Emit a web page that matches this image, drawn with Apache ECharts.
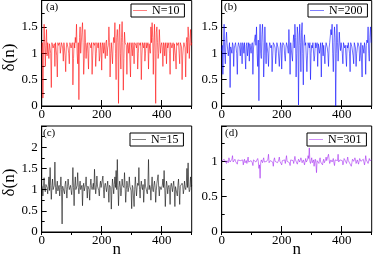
<!DOCTYPE html>
<html><head><meta charset="utf-8">
<script src="https://cdn.jsdelivr.net/npm/echarts@6/dist/echarts.min.js"></script>
<style>html,body{margin:0;padding:0;background:#fff}#c{width:373px;height:259px}</style>
</head><body><div id="c"></div>
<script>
const nIndex = [0,4,8,12,16,20,24,28,32,36,40,44,48,52,56,60,64,68,72,76,80,84,88,92,96,100,104,108,112,116,120,124,128,132,136,140,144,148,152,156,160,164,168,172,176,180,184,188,192,196,200,204,208,212,216,220,224,228,232,236,240,244,248,252,256,260,264,268,272,276,280,284,288,292,296,300,304,308,312,316,320,324,328,332,336,340,344,348,352,356,360,364,368,372,376,380,384,388,392,396,400,404,408,412,416,420,424,428,432,436,440,444,448,452,456,460,464,468,472,476,480,484,488,492,496,500];
const nMid = [2,6,10,14,18,22,26,30,34,38,42,46,50,54,58,62,66,70,74,78,82,86,90,94,98,102,106,110,114,118,122,126,130,134,138,142,146,150,154,158,162,166,170,174,178,182,186,190,194,198,202,206,210,214,218,222,226,230,234,238,242,246,250,254,258,262,266,270,274,278,282,286,290,294,298,302,306,310,314,318,322,326,330,334,338,342,346,350,354,358,362,366,370,374,378,382,386,390,394,398,402,406,410,414,418,422,426,430,434,438,442,446,450,454,458,462,466,470,474,478,482,486,490,494,498];

const deltaN10 = [
1.0,0.15,1.55,0.75,1.45,1.2,0.9,1.18,0.35,1.2,
1.12,0.75,1.2,0.55,1.15,1.2,1.1,1.2,0.85,1.18,
0.65,1.2,1.1,0.8,1.19,1.12,0.4,1.2,1.3,1.55,
0.8,0.12,1.5,1.0,1.58,0.6,1.45,0.9,1.2,0.7,
1.18,1.1,0.6,1.2,1.15,0.75,1.2,1.1,0.85,1.2,
0.68,1.15,1.2,0.9,1.25,1.1,1.5,0.55,1.2,0.8,
1.3,1.58,0.5,1.45,0.05,1.55,0.7,1.6,0.3,1.4,
1.2,0.6,1.15,1.2,0.55,1.1,1.2,0.8,1.18,1.1,
0.7,1.2,1.15,0.5,1.2,1.1,0.85,1.2,1.12,0.7,
1.2,1.5,1.58,0.6,1.55,0.05,1.5,0.9,1.45,1.0,
1.2,0.75,1.15,1.2,0.8,1.1,1.2,0.6,1.18,1.1,
0.85,1.2,0.7,1.15,1.2,0.8,1.2,0.5,1.1,1.2,
0.55,1.3,1.5,0.9,1.45,1.2];
const deltaN10Mid = [
1.2,1.0,1.2,1.15,0.95,1.2,1.18,1.0,1.2,1.1,
1.18,1.2,0.95,1.2,1.15,1.0,1.2,1.1,1.2,0.95,
1.1,1.2,1.0,1.2,1.1,1.2,0.9,1.1,1.2,1.0,
1.2,1.3,1.0,1.4,1.2,0.9,1.2,1.15,1.0,1.2,
1.15,1.2,0.95,1.18,1.2,1.0,1.15,1.2,0.95,1.1,
1.2,1.0,1.18,1.2,0.95,1.15,1.2,1.0,1.2,1.15,
1.2,1.0,1.3,1.2,1.4,1.0,1.3,1.2,0.9,1.2,
1.15,1.2,1.0,1.18,1.2,0.95,1.1,1.2,1.15,1.2,
1.0,1.18,1.2,0.95,1.15,1.2,1.0,1.1,1.2,1.18,
1.0,1.2,1.3,1.2,1.0,1.4,1.2,1.0,1.2,1.15,
1.1,1.2,0.95,1.1,1.2,1.15,1.0,1.2,1.1,1.2,
1.18,0.95,1.2,1.15,1.0,1.2,1.12,0.95,1.2,1.1,
1.2,1.0,1.3,1.2,1.15];

const deltaN200 = [
1.05,0.6,1.55,0.8,1.4,1.2,0.95,0.35,1.15,1.2,
0.75,1.15,1.2,0.6,1.2,1.1,1.2,0.8,1.15,1.2,
0.7,1.2,1.1,0.85,1.2,1.15,0.6,1.2,1.35,1.5,
0.75,0.1,1.55,0.9,1.55,0.55,1.5,0.8,1.2,0.75,
1.2,1.1,0.65,1.2,1.15,0.8,1.2,1.1,0.75,1.2,
0.7,1.2,1.15,0.85,1.2,1.1,1.45,0.6,1.2,0.85,
1.35,1.55,0.55,1.5,0.02,1.55,0.65,1.58,0.4,1.35,
1.2,0.65,1.2,1.1,0.5,1.15,1.2,0.85,1.2,1.1,
0.75,1.2,1.1,0.55,1.2,1.15,0.8,1.2,1.1,0.75,
1.2,1.45,1.55,0.65,1.5,0.0,1.55,0.85,1.4,1.05,
1.2,0.8,1.2,1.15,0.75,1.1,1.2,0.65,1.2,1.1,
0.8,1.2,0.75,1.1,1.2,0.85,1.2,0.55,1.15,1.2,
0.6,1.25,1.5,0.85,1.5,1.2];
const deltaN200Mid = [
1.15,1.2,1.0,1.2,1.18,0.95,1.2,1.12,1.0,1.15,
1.1,1.2,1.0,1.12,1.2,0.95,1.1,1.2,1.0,1.2,
1.15,0.95,1.2,1.18,1.0,1.2,1.1,1.2,1.15,1.0,
1.25,1.2,1.0,1.35,1.2,0.95,1.1,1.2,1.0,1.1,
1.2,1.15,0.95,1.2,1.1,1.0,1.2,1.12,1.0,1.15,
1.1,1.2,0.95,1.1,1.2,1.0,1.1,1.2,0.95,1.2,
1.1,1.3,1.0,1.35,1.15,1.2,1.4,1.0,1.2,1.15,
1.2,0.95,1.18,1.2,1.0,1.1,1.2,0.95,1.1,1.2,
1.18,1.0,1.2,1.1,0.95,1.15,1.1,1.2,1.0,1.1,
1.2,1.35,1.0,1.2,1.3,1.0,1.2,1.1,1.18,1.2,
1.0,1.2,1.1,0.95,1.15,1.2,1.0,1.2,1.12,0.95,
1.2,1.1,1.0,1.2,1.12,0.95,1.2,1.15,1.0,1.1,
1.15,1.2,1.0,1.3,1.2];

const deltaN15 = [
1.1,0.85,1.28,0.95,1.15,0.9,1.3,1.52,0.77,1.25,
1.0,1.65,0.9,1.2,1.05,0.85,1.3,0.19,1.1,0.9,
1.2,0.8,1.25,1.0,1.1,0.88,1.52,0.62,1.3,1.0,
1.4,0.9,1.2,1.05,0.62,1.15,0.95,1.3,0.8,1.1,
0.75,1.25,1.0,1.15,1.48,0.9,1.32,1.1,0.85,1.2,
1.05,1.32,0.8,1.15,0.95,1.2,0.7,1.1,0.54,1.25,
0.9,1.3,1.45,1.71,0.62,1.2,0.85,1.25,1.1,1.4,
0.7,1.2,0.95,1.3,1.1,0.55,1.05,0.6,1.3,0.85,
1.15,1.52,0.8,1.2,1.0,0.7,1.25,1.05,0.9,1.71,
1.1,0.75,1.3,0.95,1.2,0.7,1.15,1.35,0.85,1.1,
1.0,1.25,1.45,0.6,1.2,0.9,1.1,0.65,1.15,0.95,
1.2,0.6,1.1,0.85,1.25,0.65,1.05,1.15,0.9,1.2,
1.0,1.5,1.63,0.95,1.3,1.1];
const deltaN15Mid = [
1.05,1.1,1.0,1.12,1.05,1.08,0.98,1.1,1.05,1.0,
1.1,1.05,1.08,0.97,1.1,1.05,1.0,1.08,1.05,1.12,
1.0,1.07,1.1,1.05,0.98,1.1,1.05,1.08,1.0,1.1,
1.05,1.08,1.0,1.1,1.05,0.97,1.12,1.05,1.08,1.0,
1.1,1.05,1.07,1.0,1.12,1.05,1.08,0.98,1.1,1.05,
1.07,1.0,1.1,1.05,1.08,0.97,1.1,1.05,1.0,1.08,
1.12,1.05,1.0,1.1,1.05,1.08,0.98,1.1,1.05,1.07,
1.0,1.1,1.05,1.08,0.97,1.1,1.05,1.0,1.08,1.05,
1.1,1.0,1.07,1.05,1.12,1.0,1.08,1.05,1.1,1.0,
1.05,1.08,1.0,1.1,1.05,0.98,1.12,1.05,1.07,1.0,
1.1,1.05,1.08,0.97,1.1,1.05,1.0,1.08,1.05,1.1,
1.0,1.07,1.05,1.1,0.98,1.08,1.05,1.1,1.0,1.05,
1.1,1.05,1.08,1.0,1.07];

const deltaN301 = [
1.0,0.98,1.03,1.0,0.97,1.02,1.05,0.99,1.01,1.08,
0.98,1.03,1.0,0.96,1.02,1.04,0.99,1.01,0.95,1.03,
1.0,0.97,1.06,1.01,0.98,1.02,0.94,1.03,1.0,0.97,
1.04,0.9,0.76,1.02,0.98,1.05,0.97,1.01,0.99,1.1,
0.96,1.03,1.0,0.93,1.05,0.98,1.02,0.97,1.06,1.0,
0.95,1.03,1.0,0.97,1.08,0.99,1.02,0.94,1.04,1.0,
0.97,1.07,1.01,0.96,1.03,0.99,1.05,0.98,1.02,0.95,
1.04,1.0,1.08,1.19,0.97,1.05,1.0,0.93,1.03,0.84,
1.02,0.97,1.05,1.0,0.95,1.03,0.99,1.06,1.01,1.1,
0.97,1.02,0.99,1.04,0.94,1.03,1.0,1.1,0.97,1.02,
1.0,0.95,1.04,1.01,0.97,1.06,0.99,1.02,0.93,1.03,
1.0,1.05,0.97,1.02,0.96,1.04,1.0,0.98,1.03,0.95,
1.08,1.0,0.97,1.04,1.01,1.02];
const deltaN301Mid = [
1.01,0.99,1.02,1.0,1.01,0.98,1.02,1.0,1.03,0.99,
1.01,1.0,0.98,1.02,1.0,1.01,0.99,1.02,1.0,0.98,
1.01,1.02,0.99,1.0,1.01,0.98,1.02,1.0,0.99,1.01,
1.0,0.95,0.98,1.0,1.02,0.99,1.01,1.0,1.03,0.98,
1.01,1.0,0.99,1.02,1.0,1.01,0.98,1.02,1.0,0.99,
1.01,1.0,1.02,0.99,1.0,1.01,0.98,1.02,1.0,1.01,
0.99,1.02,1.0,0.98,1.01,1.0,1.02,0.99,1.01,1.0,
0.99,1.02,1.04,1.0,1.01,0.98,1.02,1.0,0.97,1.01,
1.0,1.02,0.99,1.01,1.0,0.98,1.02,1.01,1.0,1.03,
0.99,1.01,1.0,0.98,1.02,1.0,1.01,0.99,1.02,1.0,
1.01,0.98,1.02,1.0,0.99,1.01,1.0,1.02,0.98,1.01,
1.0,1.02,0.99,1.01,0.98,1.02,1.0,0.99,1.01,1.0,
1.02,1.0,0.99,1.01,1.0];

const xTickLabels = [0, 200, 400];
const panelLabels = ['(a)', '(b)', '(c)', '(d)'];
const seriesNames = ['N=10', 'N=200', 'N=15', 'N=301'];
const seriesValues = [deltaN10, deltaN200, deltaN15, deltaN301];
const seriesMid = [deltaN10Mid, deltaN200Mid, deltaN15Mid, deltaN301Mid];
const yMax = [2, 2, 2.5, 1.5];

const colors = ['#ff0000', '#0000ff', '#000000', '#a020f0'];
const FONT = '"Liberation Serif", "Times New Roman", serif';
const grids = [
  {left: 41.7, top: 0.5, width: 150, height: 105.5},
  {left: 221.7, top: 0.5, width: 150, height: 105.5},
  {left: 41.7, top: 126, width: 150, height: 106},
  {left: 221.7, top: 126, width: 150, height: 106}
];
const legendPos = [
  {left: 131, top: 4}, {left: 308, top: 4}, {left: 130, top: 133}, {left: 307, top: 133}
];
const labelPos = [[46, 2], [224, 2], [43, 128], [225, 128]];

function buildData(vals, mids) {
  const out = [];
  for (let k = 0; k < nIndex.length; k++) {
    out.push([nIndex[k], vals[k]]);
    if (k < nMid.length) out.push([nMid[k], mids[k]]);
  }
  return out;
}

const xAxes = [], yAxes = [], series = [], legends = [], graphics = [];
grids.forEach((g, i) => {
  g.show = true; g.borderColor = '#000'; g.borderWidth = 1; g.containLabel = false;
  xAxes.push({
    type: 'value', gridIndex: i, min: 0, max: 500, interval: 200,
    axisLine: {show: true, onZero: false, lineStyle: {color: '#000', width: 1}},
    axisTick: {show: true, inside: true, length: 6, lineStyle: {color: '#000', width: 1}},
    splitLine: {show: false},
    axisLabel: {color: '#000', fontFamily: FONT, fontSize: 13, margin: 2, showMaxLabel: false,
      formatter: v => xTickLabels.indexOf(v) >= 0 ? String(v) : ''}
  });
  xAxes.push({
    type: 'value', gridIndex: i, min: 0, max: 500, interval: 100,
    axisLine: {show: false},
    axisTick: {show: true, inside: true, length: 3, lineStyle: {color: '#000', width: 1}},
    splitLine: {show: false}, axisLabel: {show: false}
  });
  yAxes.push({
    type: 'value', gridIndex: i, min: 0, max: yMax[i], interval: 0.5,
    axisLine: {show: true, onZero: false, lineStyle: {color: '#000', width: 1}},
    axisTick: {show: true, inside: true, length: 5, lineStyle: {color: '#000', width: 1}},
    minorTick: {show: true, splitNumber: 2, length: 3, lineStyle: {color: '#000', width: 1}},
    splitLine: {show: false}, minorSplitLine: {show: false},
    axisLabel: {color: '#000', fontFamily: FONT, fontSize: 13, margin: 4, showMaxLabel: false}
  });
  series.push({
    type: 'line', name: seriesNames[i], xAxisIndex: 2 * i, yAxisIndex: i,
    data: buildData(seriesValues[i], seriesMid[i]),
    symbol: 'none', lineStyle: {color: colors[i], width: 0.8, opacity: 0.7}, itemStyle: {color: colors[i]},
    animation: false
  });
  legends.push({
    data: [seriesNames[i]], left: legendPos[i].left, top: legendPos[i].top,
    orient: 'horizontal', borderColor: '#000', borderWidth: 1, borderRadius: 0,
    padding: [0, 5, 0, 2], itemWidth: 14, itemHeight: 1, icon: 'rect', backgroundColor: '#fff',
    itemStyle: {opacity: 0.5},
    textStyle: {fontFamily: FONT, fontSize: 12, color: '#000', lineHeight: 13}
  });
  graphics.push({
    type: 'text', left: labelPos[i][0], top: labelPos[i][1],
    style: {text: panelLabels[i], fontFamily: FONT, fontSize: 11, fill: '#000'}
  });
});
// axis titles
[57.5, 182.5].forEach(cy => graphics.push({
  type: 'text', x: 10, y: cy, rotation: Math.PI / 2,
  style: {text: 'δ(n)', fontFamily: FONT, fontSize: 17, fill: '#000', align: 'center', verticalAlign: 'middle'}
}));
[116.7, 296.7].forEach(cx => graphics.push({
  type: 'text', x: cx, y: 250,
  style: {text: 'n', fontFamily: FONT, fontSize: 17, fill: '#000', align: 'center', verticalAlign: 'middle'}
}));

const chart = echarts.init(document.getElementById('c'), null, {renderer: 'canvas'});
chart.setOption({
  animation: false, backgroundColor: '#fff',
  grid: grids, xAxis: xAxes, yAxis: yAxes, series: series, legend: legends, graphic: graphics
});
</script></body></html>
